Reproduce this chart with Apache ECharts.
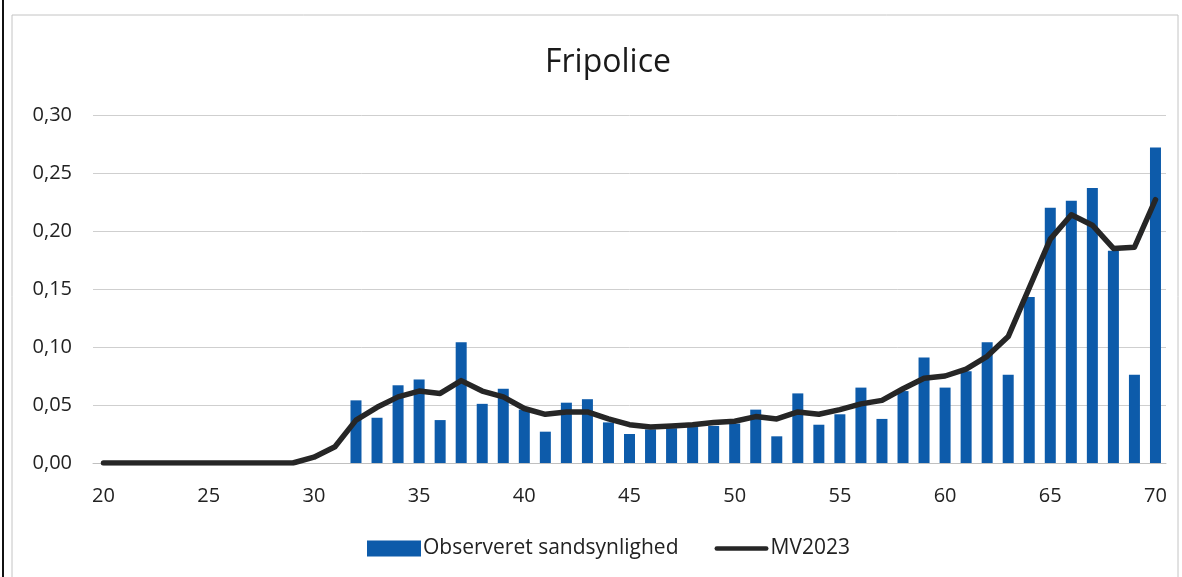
<!DOCTYPE html>
<html>
<head>
<meta charset="utf-8">
<script src="https://cdn.jsdelivr.net/npm/echarts@6/dist/echarts.min.js"></script>
<style>
html,body{margin:0;padding:0;background:#fff;}
#c{width:1182px;height:577px;}
</style>
</head>
<body>
<div id="c"></div>
<script>
const ages = [];
for (let a = 20; a <= 70; a++) ages.push(String(a));

const observed = [
  null, null, null, null, null, null, null, null, null, null, // 20-29
  null, null,                                                 // 30-31
  0.054, 0.039, 0.067, 0.072, 0.037, 0.104, 0.051, 0.064,     // 32-39
  0.046, 0.027, 0.052, 0.055, 0.035, 0.025, 0.029, 0.030,     // 40-47
  0.031, 0.032, 0.034, 0.046, 0.023, 0.060, 0.033, 0.042,     // 48-55
  0.065, 0.038, 0.062, 0.091, 0.065, 0.079, 0.104, 0.076,     // 56-63
  0.143, 0.220, 0.226, 0.237, 0.183, 0.076, 0.272             // 64-70
];

const mv2023 = [
  0, 0, 0, 0, 0, 0, 0, 0, 0, 0,                               // 20-29
  0.005, 0.014,                                               // 30-31
  0.037, 0.048, 0.057, 0.062, 0.060, 0.071, 0.062, 0.057,     // 32-39
  0.047, 0.042, 0.044, 0.044, 0.038, 0.033, 0.031, 0.032,     // 40-47
  0.033, 0.035, 0.036, 0.040, 0.038, 0.044, 0.042, 0.046,     // 48-55
  0.051, 0.054, 0.064, 0.073, 0.075, 0.081, 0.092, 0.109,     // 56-63
  0.151, 0.193, 0.214, 0.205, 0.185, 0.186, 0.227             // 64-70
];

const seriesNames = ['Observeret sandsynlighed', 'MV2023'];
const titleText = 'Fripolice';

const chart = echarts.init(document.getElementById('c'), null, {renderer: 'canvas'});
const font = 'Open Sans';
chart.setOption({
  backgroundColor: '#fff',
  animation: false,
  title: {
    text: titleText,
    left: 540,
    top: 42,
    textStyle: {fontFamily: font, fontSize: 32, fontWeight: 'normal', color: '#1a1a1a'}
  },
  graphic: [
    {type: 'line', shape: {x1: 3, y1: 0, x2: 3, y2: 577}, style: {stroke: '#111', lineWidth: 2}},
    {type: 'rect', shape: {x: 12, y: 15, width: 1166, height: 600}, style: {fill: 'none', stroke: '#c4c4c4', lineWidth: 1}}
  ],
  legend: {
    bottom: 13,
    left: 362,
    itemGap: 36,
    itemWidth: 54,
    itemHeight: 16,
    textStyle: {fontFamily: font, fontSize: 21, color: '#222', padding: [0, 0, 0, -3]},
    data: [
      {name: seriesNames[0], icon: 'rect'},
      {name: seriesNames[1], icon: 'path://M2.5,0 L57.5,0 A2.5,2.5 0 0 1 57.5,5 L2.5,5 A2.5,2.5 0 0 1 2.5,0 Z'}
    ]
  },
  grid: {left: 93, right: 16, top: 115, bottom: 114, containLabel: false},
  xAxis: {
    type: 'category',
    data: ages,
    boundaryGap: true,
    axisTick: {show: false},
    axisLine: {show: true, lineStyle: {color: '#c0c0c0', width: 1}},
    axisLabel: {
      interval: 4,
      margin: 23,
      fontFamily: font,
      fontSize: 20,
      color: '#222'
    }
  },
  yAxis: {
    type: 'value',
    min: 0,
    max: 0.3,
    interval: 0.05,
    axisLine: {show: false},
    axisTick: {show: false},
    splitLine: {lineStyle: {color: '#cfcfcf', width: 1}},
    axisLabel: {
      margin: 21,
      fontFamily: font,
      fontSize: 20,
      color: '#222',
      formatter: v => v.toFixed(2).replace('.', ',')
    }
  },
  series: [
    {
      name: seriesNames[0],
      type: 'bar',
      data: observed,
      barWidth: 11,
      itemStyle: {color: '#0D5BAA'}
    },
    {
      name: seriesNames[1],
      type: 'line',
      data: mv2023,
      symbol: 'none',
      smooth: false,
      lineStyle: {color: '#262626', width: 5.5, cap: 'round', join: 'round'},
      itemStyle: {color: '#262626'}
    }
  ]
});
</script>
</body>
</html>
